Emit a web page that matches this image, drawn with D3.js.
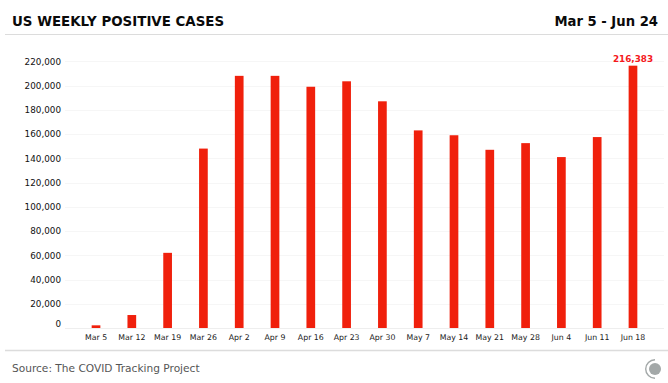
<!DOCTYPE html>
<html><head><meta charset="utf-8">
<script src="https://cdn.jsdelivr.net/npm/d3@7"></script>
<style>html,body{margin:0;padding:0;background:#fff}svg{display:block}text{font-family:"DejaVu Sans",sans-serif}</style>
</head><body><svg id="c" width="668" height="383"></svg>
<script>
const categories = ["Mar 5","Mar 12","Mar 19","Mar 26","Apr 2","Apr 9","Apr 16","Apr 23","Apr 30","May 7","May 14","May 21","May 28","Jun 4","Jun 11","Jun 18"];
const positiveCases = [2200,10700,62000,148000,208000,208000,199000,203500,187000,163000,159000,147000,152500,141000,157500,216383];
const yTicks = [0,20000,40000,60000,80000,100000,120000,140000,160000,180000,200000,220000];
const titleText = "US WEEKLY POSITIVE CASES";
const dateRange = "Mar 5 - Jun 24";
const sourceText = "Source: The COVID Tracking Project";

const svg = d3.select("#c");
const fmt = d3.format(",");
const x = d3.scaleBand().domain(categories).range([65,664]).paddingInner(0.757).paddingOuter(0.745);
const y = d3.scaleLinear().domain([0,220000]).range([328,61.3]);

svg.append("text").attr("x",12).attr("y",25.5).attr("font-size",13.4).attr("font-weight",700).attr("fill","#0a0a0a").text(titleText);
svg.append("text").attr("x",658).attr("y",25.5).attr("text-anchor","end").attr("font-size",13.2).attr("font-weight",700).attr("fill","#0a0a0a").text(dateRange);
svg.append("line").attr("x1",5).attr("x2",668).attr("y1",34.5).attr("y2",34.5).attr("stroke","#dcdcdc").attr("stroke-width",1);

// grid
svg.append("g").selectAll("line").data(yTicks).join("line")
  .attr("x1",65).attr("x2",664).attr("y1",d=>Math.round(y(d))+0.5).attr("y2",d=>Math.round(y(d))+0.5)
  .attr("stroke",d=>d===0?"#eeeeee":"#f6f6f6").attr("stroke-width",1);

// y axis
const gy = svg.append("g").attr("transform","translate(61,0)")
  .call(d3.axisLeft(y).tickValues(yTicks).tickFormat(fmt).tickSize(0).tickPadding(0));
gy.select(".domain").remove();
gy.selectAll("text").attr("font-family","DejaVu Sans").attr("font-size",8.8).attr("fill","#111")
  .attr("dy",d=>d===0?"-0.15em":"0.32em");

// x axis
const gx = svg.append("g").attr("transform","translate(0,328)")
  .call(d3.axisBottom(x).tickSize(0).tickPadding(6));
gx.select(".domain").remove();
gx.selectAll("text").attr("font-family","DejaVu Sans").attr("font-size",7.8).attr("fill","#222");

// bars
svg.append("g").selectAll("rect").data(positiveCases).join("rect")
  .attr("x",(d,i)=>x(categories[i])).attr("width",x.bandwidth())
  .attr("y",d=>y(d)).attr("height",d=>y(0)-y(d))
  .attr("fill","#f0200c");

// value label
const last = positiveCases.length-1;
svg.append("text").attr("x",x(categories[last])+x.bandwidth()/2)
  .attr("y",y(positiveCases[last])-3.5)
  .attr("text-anchor","middle").attr("font-size",8.8).attr("font-weight",700).attr("fill","#f5181c")
  .text(fmt(positiveCases[last]));

// footer
svg.append("line").attr("x1",5).attr("x2",668).attr("y1",350.5).attr("y2",350.5).attr("stroke","#dcdcdc").attr("stroke-width",1.5);
svg.append("text").attr("x",12).attr("y",372).attr("font-size",10.6).attr("fill","#555").text(sourceText);

// logo
const logo = svg.append("g").attr("transform","translate(655,369)");
logo.append("circle").attr("r",6).attr("fill","#a3a8a8");
logo.append("path").attr("d",d3.arc()({innerRadius:8.6,outerRadius:10,startAngle:Math.PI*1.0,endAngle:Math.PI*2.0})).attr("fill","#a3a8a8");
</script></body></html>
